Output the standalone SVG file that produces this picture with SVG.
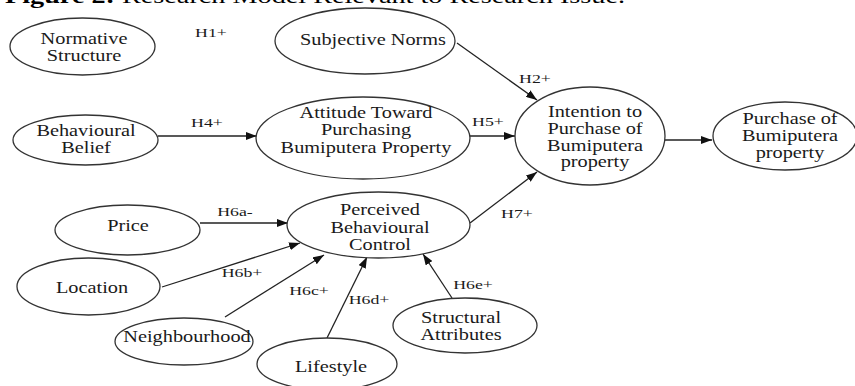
<svg xmlns="http://www.w3.org/2000/svg" width="855" height="386" viewBox="0 0 855 386">
<style>
.n ellipse{fill:#fff;stroke:#333;stroke-width:1.3}
.t{font-family:"Liberation Serif","Times New Roman",serif;font-size:16px;fill:#1a1a1a;text-anchor:middle}
.h{font-family:"Liberation Serif","Times New Roman",serif;font-size:13.5px;fill:#1a1a1a;text-anchor:middle}
.c line{stroke:#222;stroke-width:1.3;marker-end:url(#ah)}
.ttl{font-family:"Liberation Serif","Times New Roman",serif;font-size:21px;fill:#000}
</style>
<defs>
<marker id="ah" markerUnits="userSpaceOnUse" markerWidth="11" markerHeight="8" refX="11" refY="4" orient="auto">
<path d="M0,0 L11,4 L0,8 z" fill="#111"/>
</marker>
</defs>
<rect width="855" height="386" fill="#fff"/>
<text class="ttl" x="5" y="3" textLength="620" lengthAdjust="spacingAndGlyphs"><tspan font-weight="bold">Figure 2:</tspan> Research Model Relevant to Research Issue.</text>

<g id="connectors" class="c">
<line x1="457" y1="43" x2="537" y2="100"/>
<line x1="158" y1="136" x2="257" y2="136"/>
<line x1="470" y1="136" x2="515" y2="136"/>
<line x1="665" y1="140" x2="712" y2="140"/>
<line x1="470" y1="223" x2="537" y2="172"/>
<line x1="200" y1="223" x2="288" y2="223"/>
<line x1="162" y1="287" x2="300" y2="243"/>
<line x1="225" y1="317" x2="324" y2="255"/>
<line x1="327" y1="338" x2="367" y2="257"/>
<line x1="452" y1="298" x2="423" y2="254"/>
</g>

<g id="labels">
<text class="h" transform="translate(211,37) scale(1.32 1)">H1+</text>
<text class="h" transform="translate(535,83) scale(1.32 1)">H2+</text>
<text class="h" transform="translate(207,127) scale(1.32 1)">H4+</text>
<text class="h" transform="translate(488,126) scale(1.32 1)">H5+</text>
<text class="h" transform="translate(517,218) scale(1.32 1)">H7+</text>
<text class="h" transform="translate(235,216) scale(1.32 1)">H6a-</text>
<text class="h" transform="translate(242,277) scale(1.32 1)">H6b+</text>
<text class="h" transform="translate(309,295) scale(1.32 1)">H6c+</text>
<text class="h" transform="translate(369,304) scale(1.32 1)">H6d+</text>
<text class="h" transform="translate(473,289) scale(1.32 1)">H6e+</text>
</g>

<g id="normative" class="n">
<ellipse cx="82.5" cy="46.5" rx="72.5" ry="28.5"/>
<text class="t" transform="translate(84,44) scale(1.27 1)">Normative</text>
<text class="t" transform="translate(84,61) scale(1.27 1)">Structure</text>
</g>

<g id="subjective" class="n">
<ellipse cx="365" cy="41" rx="90" ry="33"/>
<text class="t" transform="translate(373,45) scale(1.27 1)">Subjective Norms</text>
</g>

<g id="belief" class="n">
<ellipse cx="85.5" cy="140" rx="72.5" ry="25"/>
<text class="t" transform="translate(86,136) scale(1.27 1)">Behavioural</text>
<text class="t" transform="translate(86,153) scale(1.27 1)">Belief</text>
</g>

<g id="attitude" class="n">
<ellipse cx="363" cy="138" rx="107" ry="41"/>
<text class="t" transform="translate(366,118) scale(1.27 1)">Attitude Toward</text>
<text class="t" transform="translate(366,135) scale(1.27 1)">Purchasing</text>
<text class="t" transform="translate(366,153) scale(1.27 1)">Bumiputera Property</text>
</g>

<g id="intention" class="n">
<ellipse cx="590" cy="136" rx="75" ry="49"/>
<text class="t" transform="translate(595,117) scale(1.27 1)">Intention to</text>
<text class="t" transform="translate(595,134) scale(1.27 1)">Purchase of</text>
<text class="t" transform="translate(595,151) scale(1.27 1)">Bumiputera</text>
<text class="t" transform="translate(595,167) scale(1.27 1)">property</text>
</g>

<g id="purchase" class="n">
<ellipse cx="785" cy="136" rx="72" ry="34"/>
<text class="t" transform="translate(790,124) scale(1.27 1)">Purchase of</text>
<text class="t" transform="translate(790,141) scale(1.27 1)">Bumiputera</text>
<text class="t" transform="translate(790,158) scale(1.27 1)">property</text>
</g>

<g id="pbc" class="n">
<ellipse cx="378.5" cy="225" rx="91.5" ry="33"/>
<text class="t" transform="translate(380,215) scale(1.27 1)">Perceived</text>
<text class="t" transform="translate(380,233) scale(1.27 1)">Behavioural</text>
<text class="t" transform="translate(380,250) scale(1.27 1)">Control</text>
</g>

<g id="price" class="n">
<ellipse cx="127.5" cy="230" rx="72.5" ry="25"/>
<text class="t" transform="translate(128,231) scale(1.27 1)">Price</text>
</g>

<g id="location" class="n">
<ellipse cx="88.5" cy="286.5" rx="71.5" ry="28.5"/>
<text class="t" transform="translate(92,293) scale(1.27 1)">Location</text>
</g>

<g id="neighbourhood" class="n">
<ellipse cx="184" cy="341.5" rx="69" ry="23.5"/>
<text class="t" transform="translate(187,342) scale(1.27 1)">Neighbourhood</text>
</g>

<g id="lifestyle" class="n">
<ellipse cx="327" cy="364" rx="70" ry="26"/>
<text class="t" transform="translate(331,372) scale(1.27 1)">Lifestyle</text>
</g>

<g id="structural" class="n">
<ellipse cx="465" cy="325.5" rx="72" ry="27.5"/>
<text class="t" transform="translate(461,323) scale(1.27 1)">Structural</text>
<text class="t" transform="translate(461,340) scale(1.27 1)">Attributes</text>
</g>
</svg>
